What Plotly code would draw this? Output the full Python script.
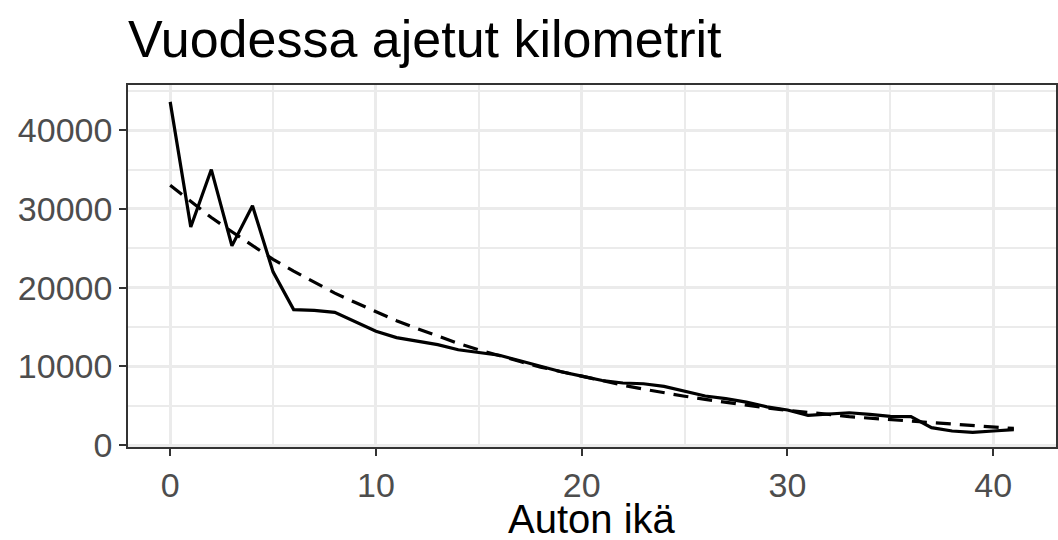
import plotly.graph_objects as go

# Vehicle age (years)
ika = list(range(42))

# Observed yearly kilometres by vehicle age
km_havaittu = [
    43600, 27700, 35000, 25300, 30400, 22000, 17200, 17100, 16850, 15650,
    14450, 13650, 13200, 12750, 12100, 11700, 11400, 10700, 10000, 9300,
    8750, 8200, 7880, 7780, 7450, 6850, 6230, 5900, 5450, 4850,
    4450, 3770, 3900, 4100, 3900, 3650, 3600, 2200, 1780, 1600,
    1780, 1960,
]

# Smoothed trend (dashed)
km_trendi = [
    33000, 30900, 28900, 27100, 25300, 23600, 22100, 20700, 19300, 18100,
    16900, 15800, 14800, 13800, 12900, 12100, 11300, 10600, 9900, 9300,
    8700, 8100, 7600, 7100, 6600, 6200, 5800, 5400, 5100, 4700,
    4400, 4200, 3900, 3600, 3400, 3200, 3000, 2800, 2600, 2400,
    2300, 2100,
]

x_ticks = [0, 10, 20, 30, 40]
y_ticks = [0, 10000, 20000, 30000, 40000]

fig = go.Figure()
fig.add_trace(go.Scatter(
    x=ika, y=km_trendi, mode="lines",
    line=dict(color="black", width=3.2, dash="15px,9px"),
    showlegend=False, hoverinfo="skip",
))
fig.add_trace(go.Scatter(
    x=ika, y=km_havaittu, mode="lines",
    line=dict(color="black", width=3.2),
    showlegend=False,
))

axis_common = dict(
    showline=True, linecolor="#333333", linewidth=1.6, mirror=True,
    ticks="outside", ticklen=7, tickwidth=2.2, tickcolor="#333333",
    tickfont=dict(family="Liberation Sans", size=34, color="#4D4D4D"),
    showgrid=True, gridcolor="#EBEBEB", gridwidth=3.2,
    zeroline=False, automargin=False,
)

fig.update_layout(
    width=1058, height=540,
    margin=dict(l=128, r=2, t=85, b=93),
    paper_bgcolor="white", plot_bgcolor="white",
    title=dict(
        text="Vuodessa ajetut kilometrit",
        font=dict(family="Liberation Sans", size=52, color="black"),
        x=128 / 1058, xanchor="left", xref="container",
        y=1 - 39 / 540, yanchor="middle", yref="container",
    ),
    xaxis=dict(
        range=[-2.05, 43.05], tickvals=x_ticks,
        ticktext=[str(v) for v in x_ticks],
        minor=dict(dtick=5, tick0=0, showgrid=True, gridcolor="#EBEBEB", gridwidth=1.6),
        **axis_common,
    ),
    yaxis=dict(
        range=[-254, 45743], tickvals=y_ticks,
        ticktext=[str(v) for v in y_ticks],
        minor=dict(dtick=5000, tick0=0, showgrid=True, gridcolor="#EBEBEB", gridwidth=1.6),
        **axis_common,
    ),
    annotations=[dict(
        text="Auton ikä", showarrow=False,
        xref="paper", yref="paper", x=0.5, y=-0.262,
        xanchor="center", yanchor="bottom", borderpad=0,
        font=dict(family="Liberation Sans", size=40, color="black"),
    )],
)

fig.write_html("out.html")
